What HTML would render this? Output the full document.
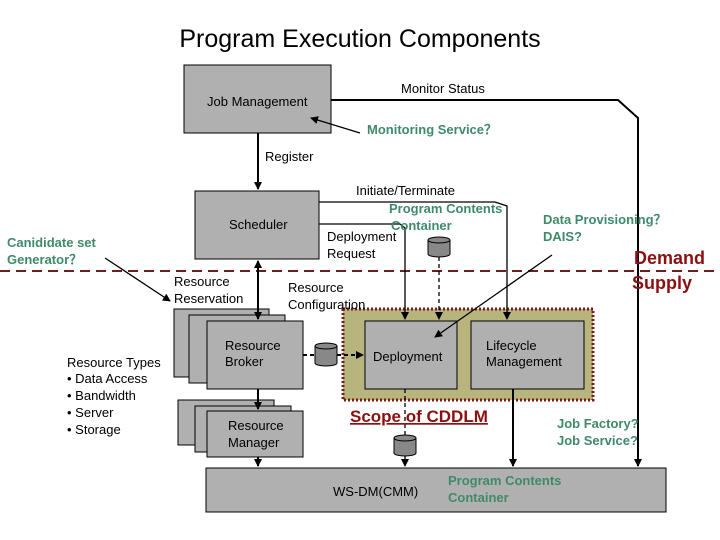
<!DOCTYPE html>
<html><head><style>body{margin:0;background:#fff}svg{display:block}text{font-family:"Liberation Sans",sans-serif}</style></head><body>
<svg width="720" height="540" viewBox="0 0 720 540" xmlns="http://www.w3.org/2000/svg">
<defs>
<marker id="a" markerWidth="8" markerHeight="8" refX="7" refY="4" orient="auto" markerUnits="userSpaceOnUse"><path d="M0,0L8,4L0,8z" fill="#000"/></marker>
<marker id="b" markerWidth="8" markerHeight="8" refX="1" refY="4" orient="auto" markerUnits="userSpaceOnUse"><path d="M8,0L0,4L8,8z" fill="#000"/></marker>
</defs>
<text x="360" y="47" font-size="25" text-anchor="middle">Program Execution Components</text>
<g fill="#b0b0b0" stroke="#000" stroke-width="1">
<rect x="184" y="65" width="147" height="68"/>
<rect x="195" y="191" width="124" height="68"/>
<rect x="174" y="309" width="95" height="68"/>
<rect x="189" y="315" width="96" height="68"/>
<rect x="207" y="321" width="96" height="68"/>
<rect x="178" y="400" width="96" height="45"/>
<rect x="195" y="406" width="96" height="46"/>
<rect x="207" y="411" width="96" height="46"/>
<rect x="206" y="468" width="460" height="44"/>
</g>
<rect x="343" y="309" width="250" height="91" fill="#b8b47e" stroke="#7a1a1a" stroke-width="3" stroke-dasharray="2,2"/>
<g fill="#b0b0b0" stroke="#000"><rect x="365" y="321" width="92" height="68"/><rect x="471" y="321" width="113" height="68"/></g>
<line x1="0" y1="271" x2="720" y2="271" stroke="#6b2020" stroke-width="2" stroke-dasharray="10,6"/>
<g stroke="#000" fill="none" stroke-width="2">
<path d="M331,100H618L638,118V466" marker-end="url(#a)"/>
<line x1="258" y1="133" x2="258" y2="189" marker-end="url(#a)"/>
<line x1="258" y1="261" x2="258" y2="319" marker-start="url(#b)" marker-end="url(#a)"/>
<line x1="258" y1="389" x2="258" y2="409" marker-end="url(#a)"/>
<line x1="258" y1="457" x2="258" y2="466" marker-end="url(#a)"/>
<line x1="513" y1="389" x2="513" y2="466" marker-end="url(#a)"/>
</g>
<g stroke="#000" fill="none" stroke-width="1.3">
<line x1="360" y1="133" x2="311" y2="118" marker-end="url(#a)"/>
<path d="M319,202H495L507,206V319" marker-end="url(#a)"/>
<path d="M319,224H400L405,228V319" marker-end="url(#a)"/>
<line x1="552" y1="255" x2="435" y2="337" marker-end="url(#a)"/>
<line x1="105" y1="258" x2="170" y2="301" marker-end="url(#a)"/>
<line x1="439" y1="257" x2="439" y2="319" stroke-dasharray="4,3" marker-end="url(#a)"/>
<line x1="405" y1="389" x2="405" y2="435" stroke-dasharray="4,3"/>
<line x1="405" y1="456" x2="405" y2="466" stroke-dasharray="4,3" marker-end="url(#a)"/>
</g>
<g stroke="#000" fill="none" stroke-width="2" stroke-dasharray="4,3"><line x1="303" y1="355" x2="315" y2="355"/><line x1="337" y1="355" x2="363" y2="355" marker-end="url(#a)"/></g>
<g fill="#888" stroke="#000">
<path d="M428,240V254A11,3 0 0 0 450,254V240"/><ellipse cx="439" cy="240" rx="11" ry="3"/>
<path d="M315,346V363A11,3 0 0 0 337,363V346"/><ellipse cx="326" cy="346" rx="11" ry="3"/>
<path d="M394,438V453A11,3 0 0 0 416,453V438"/><ellipse cx="405" cy="438" rx="11" ry="3"/>
</g>
<g font-size="13" fill="#000">
<text x="207" y="106">Job Management</text>
<text x="401" y="93">Monitor Status</text>
<text x="265" y="161">Register</text>
<text x="229" y="229">Scheduler</text>
<text x="356" y="195">Initiate/Terminate</text>
<text x="327" y="241">Deployment</text>
<text x="327" y="258">Request</text>
<text x="174" y="286">Resource</text>
<text x="174" y="303">Reservation</text>
<text x="288" y="292">Resource</text>
<text x="288" y="309">Configuration</text>
<text x="225" y="350">Resource</text>
<text x="225" y="366">Broker</text>
<text x="228" y="430">Resource</text>
<text x="228" y="447">Manager</text>
<text x="373" y="361">Deployment</text>
<text x="486" y="350">Lifecycle</text>
<text x="486" y="366">Management</text>
<text x="333" y="496">WS-DM(CMM)</text>
<text x="67" y="367">Resource Types</text>
<text x="67" y="383">• Data Access</text>
<text x="67" y="400">• Bandwidth</text>
<text x="67" y="417">• Server</text>
<text x="67" y="434">• Storage</text>
</g>
<g font-size="13" fill="#3f8a6a" font-weight="bold">
<text x="367" y="134">Monitoring Service？</text>
<text x="389" y="213">Program Contents</text>
<text x="391" y="230">Container</text>
<text x="543" y="224">Data Provisioning？</text>
<text x="543" y="241">DAIS?</text>
<text x="7" y="247">Canididate set</text>
<text x="7" y="264">Generator？</text>
<text x="557" y="428">Job Factory?</text>
<text x="557" y="445">Job Service?</text>
<text x="448" y="485">Program Contents</text>
<text x="448" y="502">Container</text>
</g>
<g font-weight="bold" fill="#8b1010">
<text x="705" y="264" font-size="18" text-anchor="end">Demand</text>
<text x="692" y="289" font-size="18" text-anchor="end">Supply</text>
<text x="350" y="422" font-size="17" text-decoration="underline">Scope of CDDLM</text>
</g>
</svg>
</body></html>
